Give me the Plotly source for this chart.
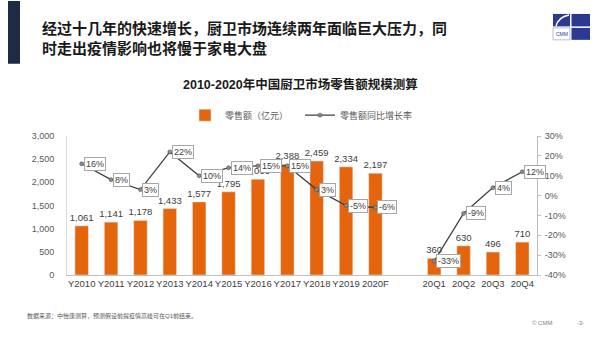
import plotly.graph_objects as go

# ---------------- data ----------------
categories = ["Y2010", "Y2011", "Y2012", "Y2013", "Y2014", "Y2015", "Y2016", "Y2017",
              "Y2018", "Y2019", "2020F", "", "20Q1", "20Q2", "20Q3", "20Q4"]
sales = [1061, 1141, 1178, 1433, 1577, 1795, 2066, 2388, 2459, 2334, 2197,
         None, 360, 630, 496, 710]
growth_pct = [16, 8, 3, 22, 10, 14, 15, 15, 3, -5, -6,
              None, -33, -9, 4, 12]
left_ticks = [0, 500, 1000, 1500, 2000, 2500, 3000]
right_ticks = [-40, -30, -20, -10, 0, 10, 20, 30]

title_lines = ["经过十几年的快速增长，厨卫市场连续两年面临巨大压力，同",
               "时走出疫情影响也将慢于家电大盘"]
chart_title = "2010-2020年中国厨卫市场零售额规模测算"
bar_name = "零售额（亿元）"
line_name = "零售额同比增长率"
footnote = "数据来源：中怡康测算，预测假设前提疫情高峰可在Q1前结束。"

# ---------------- layout geometry ----------------
W, H = 600, 338
L, R, T, B = 67, 537, 135.5, 275
FONT = "Liberation Sans, Arial, Noto Sans CJK SC, sans-serif"
ORANGE = "#E4650B"


def px(x):
    return (x - L) / (R - L)


def py(y):
    return (B - y) / (B - T)


xs = list(range(len(categories)))
g_frac = [None if g is None else g / 100 for g in growth_pct]

fig = go.Figure()
fig.add_trace(go.Bar(
    x=xs, y=sales, name=bar_name, marker_color=ORANGE, width=0.46,
    text=[None if v is None else f"{v:,}" for v in sales],
    textposition="outside", cliponaxis=False, constraintext="none",
    textfont=dict(size=9.5, color="#404040", family=FONT),
    legend="legend",
))
fig.add_trace(go.Scatter(
    x=xs, y=g_frac, name=line_name, yaxis="y2", mode="lines+markers",
    connectgaps=False,
    line=dict(color="#404040", width=1.3),
    marker=dict(size=4, color="#8c8c8c", line=dict(color="#404040", width=0.5)),
    legend="legend2",
))

annotations = []
for i, g in enumerate(growth_pct):
    if g is None:
        continue
    annotations.append(dict(
        x=xs[i], y=g / 100, xref="x", yref="y2", text=f"{g}%", showarrow=False,
        xanchor="left", yanchor="middle", xshift=2,
        bgcolor="white", bordercolor="#A6A6A6", borderwidth=1, borderpad=1,
        font=dict(size=9, color="#404040", family=FONT),
    ))

# titles
annotations.append(dict(x=px(40), y=py(28), xref="paper", yref="paper", text=title_lines[0],
                        showarrow=False, xanchor="left", yanchor="middle",
                        font=dict(size=15, color="#1a1a1a", family=FONT, weight="bold")))
annotations.append(dict(x=px(40), y=py(48), xref="paper", yref="paper", text=title_lines[1],
                        showarrow=False, xanchor="left", yanchor="middle",
                        font=dict(size=15, color="#1a1a1a", family=FONT, weight="bold")))
annotations.append(dict(x=px(300), y=py(84), xref="paper", yref="paper", text=chart_title,
                        showarrow=False, xanchor="center", yanchor="middle",
                        font=dict(size=12.5, color="#1a1a1a", family=FONT, weight="bold")))
annotations.append(dict(x=px(25), y=py(316), xref="paper", yref="paper", text=footnote,
                        showarrow=False, xanchor="left", yanchor="middle",
                        font=dict(size=6, color="#595959", family=FONT)))
annotations.append(dict(x=px(530), y=py(323), xref="paper", yref="paper", text="© CMM",
                        showarrow=False, xanchor="left", yanchor="middle",
                        font=dict(size=6, color="#7f7f7f", family=FONT)))
annotations.append(dict(x=px(575), y=py(323), xref="paper", yref="paper", text="-3-",
                        showarrow=False, xanchor="left", yanchor="middle",
                        font=dict(size=6, color="#7f7f7f", family=FONT)))
annotations.append(dict(x=px(561.5), y=py(33.5), xref="paper", yref="paper", text="CMM",
                        showarrow=False, xanchor="center", yanchor="middle",
                        font=dict(size=5, color="#2B3990", family=FONT)))

NAVY = "#2B3990"
shapes = [
    dict(type="rect", xref="paper", yref="paper", x0=px(8), x1=px(20), y0=py(0), y1=py(63),
         fillcolor="#1F2A44", line_width=0, layer="above"),
    # logo
    dict(type="rect", xref="paper", yref="paper", x0=px(553), x1=px(570), y0=py(13), y1=py(25.5),
         fillcolor=NAVY, line_width=0),
    dict(type="rect", xref="paper", yref="paper", x0=px(571.5), x1=px(590), y0=py(13), y1=py(25.5),
         fillcolor=NAVY, line_width=0),
    dict(type="rect", xref="paper", yref="paper", x0=px(553), x1=px(570), y0=py(27), y1=py(39),
         fillcolor="white", line=dict(color="#9aa0c8", width=0.7)),
    dict(type="rect", xref="paper", yref="paper", x0=px(571.5), x1=px(590), y0=py(27), y1=py(39),
         fillcolor=NAVY, line_width=0),
    dict(type="path", xref="paper", yref="paper",
         path=f"M {px(556)},{py(25.5)} Q {px(558)},{py(16)} {px(569)},{py(14)}",
         line=dict(color="white", width=1.5)),
]

legend_common = dict(orientation="h", xanchor="left", yanchor="top",
                     font=dict(size=9, color="#595959", family=FONT),
                     itemwidth=30, bgcolor="rgba(0,0,0,0)")

fig.update_layout(
    width=W, height=H,
    margin=dict(l=L, r=W - R, t=T, b=H - B, pad=0),
    paper_bgcolor="white", plot_bgcolor="white",
    font=dict(family=FONT, size=9, color="#595959"),
    bargap=0.5,
    showlegend=True,
    legend=dict(x=px(185), y=py(100), **legend_common),
    legend2=dict(x=px(300), y=py(100), **legend_common),
    xaxis=dict(range=[-0.5, len(categories) - 0.5], tickmode="array", tickvals=xs,
               ticktext=categories, showline=True, linecolor="#BFBFBF", linewidth=1,
               showgrid=False, zeroline=False, ticks="", tickangle=0,
               tickfont=dict(size=9.5, color="#404040", family=FONT)),
    yaxis=dict(range=[0, 3000], tickmode="array", tickvals=left_ticks,
               ticktext=[f"{v:,}" for v in left_ticks], showline=True, linecolor="#D9D9D9",
               showgrid=False, zeroline=False, ticks="", ticklabelstandoff=10,
               tickfont=dict(size=9, color="#595959", family=FONT)),
    yaxis2=dict(range=[-0.4, 0.3], overlaying="y", side="right", tickmode="array",
                tickvals=[v / 100 for v in right_ticks],
                ticktext=[f"{v}%" for v in right_ticks], showline=True,
                linecolor="#BFBFBF", showgrid=False, zeroline=False,
                ticks="outside", ticklen=3, tickcolor="#BFBFBF", ticklabelstandoff=2,
                tickfont=dict(size=9, color="#595959", family=FONT)),
    annotations=annotations,
    shapes=shapes,
)

fig.write_html("out.html")
